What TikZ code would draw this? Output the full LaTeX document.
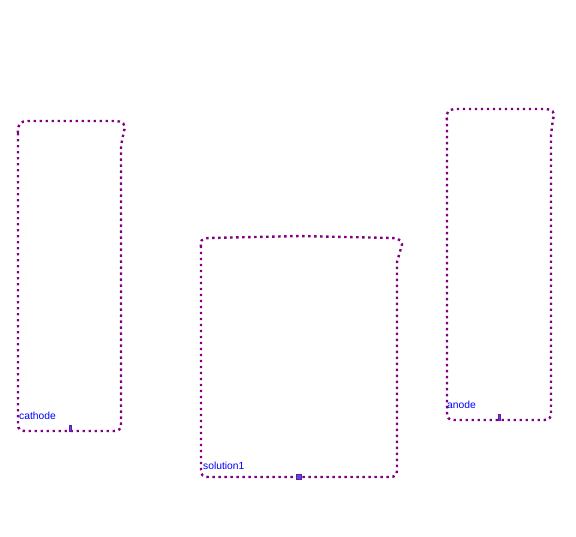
\documentclass[tikz,border=0pt]{standalone}
\usepackage{fontspec}
\setmainfont{Liberation Sans}
\definecolor{outl}{RGB}{128,0,128}
\definecolor{lbl}{RGB}{0,0,255}
\definecolor{mk}{RGB}{70,80,230}
\begin{document}
\begin{tikzpicture}[x=1pt,y=-1pt,
  vessel/.style={draw=outl,line width=2.4pt,dash pattern=on 2.4pt off 3.6pt},
  tag/.style={anchor=base west,inner sep=0pt,text=lbl,font=\fontsize{10.3}{12}\selectfont},
  marker/.style={fill=mk,draw=outl!70!mk,line width=0.5pt,inner sep=0pt,minimum width=#1,minimum height=6pt},
  marker/.default=2.5pt]
\useasboundingbox (0,0) rectangle (576,536);
% cathode
\draw[vessel] (18,133) .. controls (17,125) and (20,121) .. (28,121) -- (114,121)
  .. controls (122,121) and (127,124) .. (124,131) -- (121,146) -- (121,424)
  .. controls (121,429) and (119,431) .. (114,431) -- (25,431)
  .. controls (20,431) and (18,429) .. (18,424) -- cycle;
\node[tag] (cathode) at (19,419) {cathode};
\node[marker] (cm) at (70,428) {};
% solution1
\draw[vessel] (201,247) .. controls (199,241) and (202,238) .. (210,238) -- (300,236) -- (392,238)
  .. controls (400,238) and (404,242) .. (401,248) -- (397,262) -- (397,470)
  .. controls (397,475) and (395,477) .. (390,477) -- (208,477)
  .. controls (203,477) and (201,475) .. (201,470) -- cycle;
\node[tag] (solution1) at (203,469) {solution1};
\node[marker=5pt,minimum height=4.5pt] (sm) at (299,476.5) {};
% anode
\draw[vessel] (447,120) .. controls (445,112) and (449,109) .. (457,109) -- (544,109)
  .. controls (552,109) and (556,112) .. (553,119) -- (551,135) -- (551,413)
  .. controls (551,418) and (549,420) .. (544,420) -- (454,420)
  .. controls (449,420) and (447,418) .. (447,413) -- cycle;
\node[tag] (anode) at (447,408) {anode};
\node[marker] (am) at (499,417) {};
\end{tikzpicture}
\end{document}
